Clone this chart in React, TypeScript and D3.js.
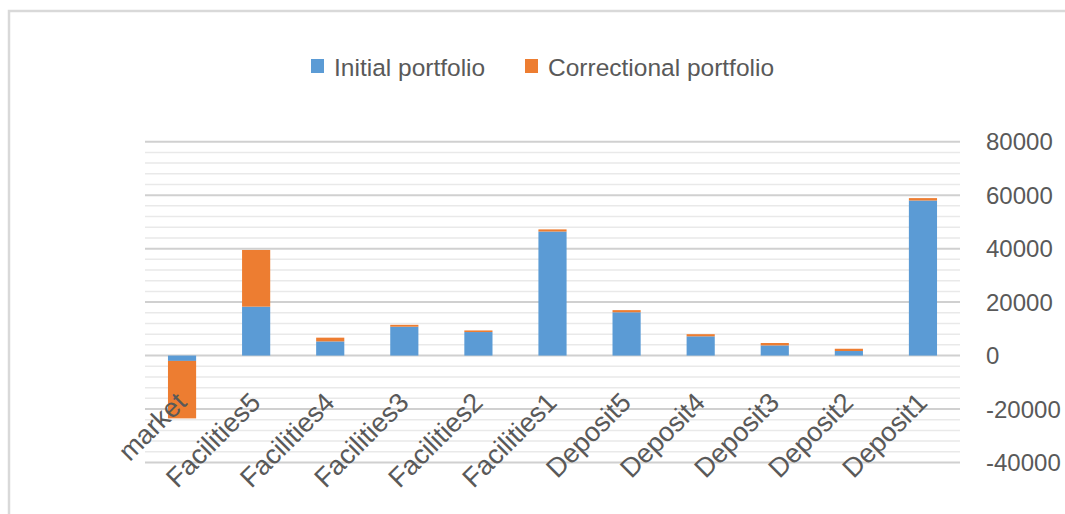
import React, { useEffect, useRef } from 'react'
import * as d3 from 'd3'

const categories = ['market', 'Facilities5', 'Facilities4', 'Facilities3', 'Facilities2', 'Facilities1', 'Deposit5', 'Deposit4', 'Deposit3', 'Deposit2', 'Deposit1']
const initialPortfolio = [-2000, 18300, 5300, 10800, 8800, 46400, 16200, 7200, 3800, 1700, 58000]
const correctionalPortfolio = [-21500, 21200, 1400, 700, 600, 800, 800, 800, 900, 850, 900]
const seriesNames = ['Initial portfolio', 'Correctional portfolio']
const yTicks = [-40000, -20000, 0, 20000, 40000, 60000, 80000]

const colors = ['#5b9bd5', '#ed7d31']
const font = '"Liberation Sans", Arial, sans-serif'

export default function App() {
    const svgRef = useRef<SVGSVGElement>(null)

    const width = 1065
    const height = 514

    useEffect(() => {
        const svg = d3.select(svgRef.current)
        svg.selectAll('*').remove()

        // outer chart border
        svg.append('rect')
            .attr('x', 9).attr('y', 11)
            .attr('width', 1100).attr('height', 600)
            .attr('fill', '#fff')
            .attr('stroke', '#d9d9d9')
            .attr('stroke-width', 2.5)

        const x = d3.scaleBand<string>()
            .domain(categories)
            .range([145, 960])
            .paddingInner(0.62)
            .paddingOuter(0.31)

        const y = d3.scaleLinear().domain([-40000, 80000]).range([462.5, 141.7])

        // minor grid
        const minor = d3.range(-40000, 80001, 4000).filter(v => v % 20000 !== 0)
        svg.append('g').selectAll('line').data(minor).enter().append('line')
            .attr('x1', 145).attr('x2', 960)
            .attr('y1', d => y(d)).attr('y2', d => y(d))
            .attr('stroke', '#e9e9e9').attr('stroke-width', 1.5)

        // major grid
        svg.append('g').selectAll('line').data(yTicks).enter().append('line')
            .attr('x1', 145).attr('x2', 960)
            .attr('y1', d => y(d)).attr('y2', d => y(d))
            .attr('stroke', '#d0d0d0').attr('stroke-width', 2)

        const rows = categories.map((c, i) => ({
            cat: c,
            a: initialPortfolio[i],
            b: correctionalPortfolio[i],
        }))
        const stack = d3.stack<any>().keys(['a', 'b']).offset(d3.stackOffsetDiverging)
        const layers = stack(rows)

        layers.forEach((layer, li) => {
            svg.append('g').selectAll('rect').data(layer).enter().append('rect')
                .attr('x', d => x(d.data.cat) as number)
                .attr('width', x.bandwidth())
                .attr('y', d => y(Math.max(d[0], d[1])))
                .attr('height', d => Math.abs(y(d[0]) - y(d[1])))
                .attr('fill', colors[li])
        })

        // y tick labels on the right
        svg.append('g').selectAll('text').data(yTicks).enter().append('text')
            .attr('x', 986)
            .attr('y', d => y(d))
            .attr('dy', '0.36em')
            .attr('font-family', font)
            .attr('font-size', 24)
            .attr('fill', '#595959')
            .text(d => String(d))

        // category labels, rotated
        svg.append('g').selectAll('text').data(categories).enter().append('text')
            .attr('transform', d => `translate(${(x(d) as number) + x.bandwidth() / 2 + 6}, 404) rotate(-45)`)
            .attr('text-anchor', 'end')
            .attr('font-family', font)
            .attr('font-size', 27)
            .attr('fill', '#595959')
            .text(d => d)

        // legend
        const legendX = [311, 525]
        seriesNames.forEach((name, i) => {
            svg.append('rect')
                .attr('x', legendX[i]).attr('y', 59)
                .attr('width', 13).attr('height', 14)
                .attr('fill', colors[i])
            svg.append('text')
                .attr('x', legendX[i] + 23).attr('y', 76)
                .attr('font-family', font)
                .attr('font-size', 24.5)
                .attr('fill', '#595959')
                .text(name)
        })
    }, [])

    return (
        <div style={{ position: 'absolute', left: 0, top: 0 }}>
            <svg ref={svgRef} width={width} height={height} style={{ display: 'block' }} />
        </div>
    )
}
